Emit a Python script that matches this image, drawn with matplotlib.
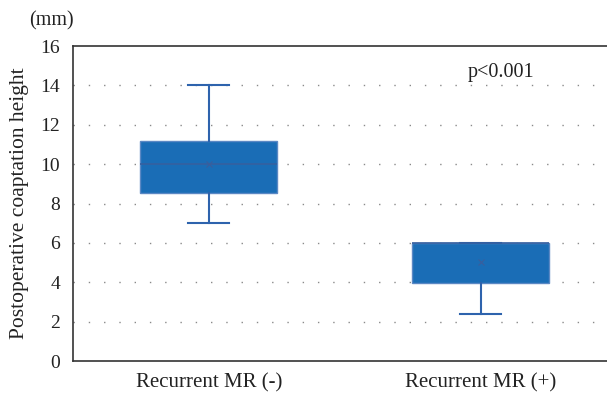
import matplotlib.pyplot as plt
import numpy as np

groups = ['Recurrent MR (-)', 'Recurrent MR (+)']
whislo = [7.0, 2.4]
q1 = [8.55, 3.95]
med = [10.0, 6.0]
q3 = [11.2, 6.0]
whishi = [14.0, 6.0]
means = [10.0, 5.05]
yticks = [0, 2, 4, 6, 8, 10, 12, 14, 16]

plt.rcParams['font.family'] = 'Liberation Serif'

fig = plt.figure(figsize=(6.07, 3.95), dpi=100)
ax = fig.add_axes([0.120, 0.086, 0.880, 0.7975])

stats = []
for i in range(len(groups)):
    stats.append({'label': groups[i], 'whislo': whislo[i], 'q1': q1[i], 'med': med[i],
                  'q3': q3[i], 'whishi': whishi[i], 'mean': means[i], 'fliers': []})

blue = '#1a6db6'
line = '#2e63ad'
ax.bxp(stats, positions=[1, 2], widths=0.505, patch_artist=True, showmeans=True,
       boxprops=dict(facecolor=blue, edgecolor='#5b88c4', linewidth=1.0),
       medianprops=dict(color='#3560a0', linewidth=1.2),
       whiskerprops=dict(color=line, linewidth=1.5),
       capprops=dict(color=line, linewidth=1.5),
       capwidths=0.15,
       meanprops=dict(marker='x', markeredgecolor='#3a5e9c', markersize=5, markeredgewidth=0.8))

ax.set_xlim(0.5, 2.465)
ax.set_ylim(0, 16)
ax.set_yticks(yticks)
for y in yticks[1:-1]:
    ax.axhline(y, color='#8a8a8a', linestyle=(0, (1, 10)), linewidth=1.0, zorder=0)

ax.spines['right'].set_visible(False)
for s in ['left', 'top', 'bottom']:
    ax.spines[s].set_color('#333333')
    ax.spines[s].set_linewidth(1.2)
ax.tick_params(length=0, labelsize=14, colors='#222222')
ax.tick_params(axis='y', pad=9)
ax.tick_params(axis='x', pad=9)
ax.set_xticklabels(groups, fontsize=15)

ax.set_ylabel('Postoperative coaptation height', fontsize=15.5, color='#222222', labelpad=8)
fig.text(0.085, 0.948, '(mm)', fontsize=14.5, color='#222222', ha='center', va='center')
ax.text(2.075, 14.65, 'p<0.001', fontsize=14.5, color='#222222', ha='center', va='center')

fig.savefig('out.png', dpi=100)
